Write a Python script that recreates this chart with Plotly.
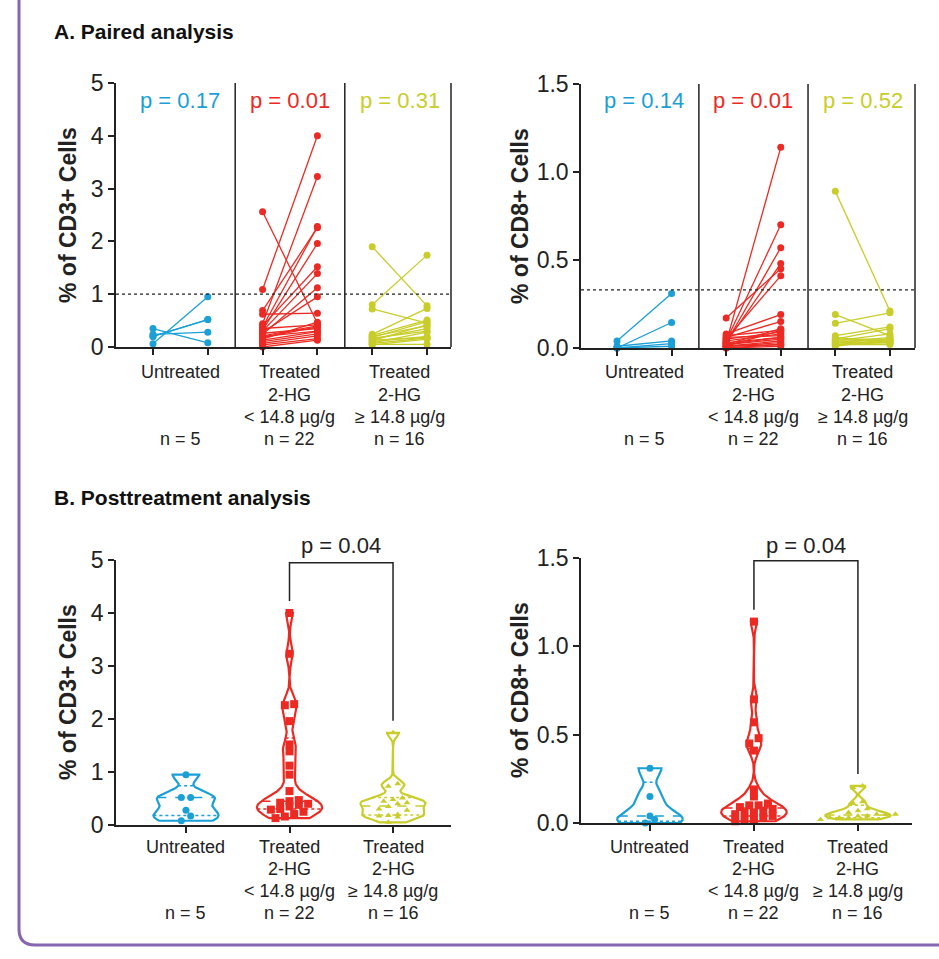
import numpy as np
import plotly.graph_objects as go

W, H = 939, 959
BLUE = "#1a9fd6"
RED = "#ec2a24"
YEL = "#c8cd2a"
INK = "#222222"
FONT = "Arial, Liberation Sans, sans-serif"

# ---------------- data ----------------
group_lines = [["Untreated", "", "", "n = 5"],
               ["Treated", "2-HG", "< 14.8 µg/g", "n = 22"],
               ["Treated", "2-HG", "≥ 14.8 µg/g", "n = 16"]]
group_colors = [BLUE, RED, YEL]

# Paired analysis, CD3
cd3_untr_pre = [0.35, 0.24, 0.20, 0.20, 0.06]
cd3_untr_post = [0.08, 0.28, 0.52, 0.52, 0.95]
cd3_low_pre = [2.56, 1.09, 0.69, 0.62, 0.44, 0.40, 0.38, 0.35, 0.32, 0.30, 0.28,
               0.26, 0.24, 0.21, 0.20, 0.18, 0.15, 0.13, 0.10, 0.07, 0.04, 0.0]
cd3_low_post = [0.45, 4.00, 2.26, 0.64, 3.23, 1.52, 2.28, 0.42, 1.96, 1.39, 0.95,
                0.35, 1.12, 0.40, 0.30, 0.38, 0.47, 0.29, 0.25, 0.21, 0.16, 0.13]
cd3_high_pre = [1.90, 0.80, 0.72, 0.24, 0.22, 0.20, 0.18, 0.17, 0.15, 0.13, 0.12,
                0.10, 0.08, 0.07, 0.05, 0.04]
cd3_high_post = [0.78, 1.74, 0.45, 0.73, 0.51, 0.40, 0.48, 0.30, 0.35, 0.18, 0.42,
                 0.20, 0.28, 0.17, 0.05, 0.15]
cd3_pvals = ["p = 0.17", "p = 0.01", "p = 0.31"]
cd3_ref = 1.0

# Paired analysis, CD8
cd8_untr_pre = [0.04, 0.0, 0.01, 0.0, 0.0]
cd8_untr_post = [0.31, 0.145, 0.04, 0.025, 0.01]
cd8_low_pre = [0.17, 0.08, 0.07, 0.06, 0.05, 0.05, 0.04, 0.04, 0.03, 0.03, 0.03,
               0.02, 0.02, 0.02, 0.01, 0.01, 0.01, 0.01, 0.0, 0.0, 0.06, 0.03]
cd8_low_post = [0.45, 0.19, 0.10, 0.15, 0.41, 0.09, 0.70, 0.08, 1.14, 0.48, 0.57,
                0.06, 0.11, 0.05, 0.04, 0.10, 0.02, 0.03, 0.01, 0.02, 0.07, 0.06]
cd8_high_pre = [0.89, 0.19, 0.14, 0.07, 0.06, 0.05, 0.05, 0.04, 0.04, 0.03, 0.03,
                0.03, 0.02, 0.02, 0.02, 0.01]
cd8_high_post = [0.21, 0.07, 0.20, 0.12, 0.03, 0.11, 0.05, 0.08, 0.04, 0.05, 0.03,
                 0.06, 0.04, 0.02, 0.03, 0.05]
cd8_pvals = ["p = 0.14", "p = 0.01", "p = 0.52"]
cd8_ref = 0.33

# Posttreatment analysis
b_cd3_groups = [[0.95, 0.52, 0.52, 0.28, 0.17, 0.08], cd3_low_post, cd3_high_post]
b_cd8_groups = [[0.31, 0.15, 0.04, 0.02, 0.0], cd8_low_post, cd8_high_post]
# (lower quartile, median, upper quartile) as drawn
b_cd3_quart = [(0.18, 0.52, 0.74), (0.30, 0.45, 1.64), (0.19, 0.36, 0.52)]
b_cd8_quart = [(0.01, 0.04, 0.23), (0.04, 0.085, 0.42), (0.03, 0.045, 0.10)]
b_pval = "p = 0.04"


# ---------------- helpers ----------------
def px(x):
    return x / W


def py(y):
    return 1 - y / H


fig = go.Figure()

TICKSIZE = 23
axis_common = dict(showline=True, linecolor=INK, linewidth=1.5, ticks="outside",
                   ticklen=6, tickwidth=1.5, tickcolor=INK, showgrid=False,
                   zeroline=False, automargin=False,
                   tickfont=dict(family=FONT, size=TICKSIZE, color=INK))

layout_axes = {
    "xaxis": dict(domain=[px(116), px(451)], range=[0.325, 6.438], anchor="y",
                  tickvals=[1, 2, 3, 4, 5, 6], showticklabels=False),
    "yaxis": dict(domain=[py(347), py(83)], range=[0, 5], anchor="x",
                  tickvals=[0, 1, 2, 3, 4, 5]),
    "xaxis2": dict(domain=[px(581), px(915)], range=[0.34, 6.46], anchor="y2",
                   tickvals=[1, 2, 3, 4, 5, 6], showticklabels=False),
    "yaxis2": dict(domain=[py(348), py(84)], range=[0, 1.5], anchor="x2",
                   tickvals=[0, 0.5, 1.0, 1.5], tickformat=".1f"),
    "xaxis3": dict(domain=[px(116), px(451)], range=[0.324, 3.56], anchor="y3",
                   tickvals=[1, 2, 3], showticklabels=False),
    "yaxis3": dict(domain=[py(825), py(560)], range=[0, 5], anchor="x3",
                   tickvals=[0, 1, 2, 3, 4, 5]),
    "xaxis4": dict(domain=[px(581), px(912)], range=[0.337, 3.52], anchor="y4",
                   tickvals=[1, 2, 3], showticklabels=False),
    "yaxis4": dict(domain=[py(823), py(558)], range=[0, 1.5], anchor="x4",
                   tickvals=[0, 0.5, 1.0, 1.5], tickformat=".1f"),
}
for k, v in layout_axes.items():
    d = dict(axis_common)
    d.update(v)
    layout_axes[k] = d

shapes = []
annotations = []


def ann(**kw):
    base = dict(showarrow=False, xanchor="center", yanchor="middle")
    base.update(kw)
    annotations.append(base)


def add_paired(pres, posts, xa, ya):
    for gi, (pre, post) in enumerate(zip(pres, posts)):
        col = group_colors[gi]
        x0, x1 = 2 * gi + 1, 2 * gi + 2
        xs, ys = [], []
        for a, b in zip(pre, post):
            xs += [x0, x1, None]
            ys += [a, b, None]
        fig.add_trace(go.Scatter(x=xs, y=ys, mode="lines+markers", xaxis=xa, yaxis=ya,
                                 line=dict(color=col, width=1.3),
                                 marker=dict(color=col, size=7, symbol="circle"),
                                 cliponaxis=False, showlegend=False, hoverinfo="skip"))


def swarm(vals, tol, dx):
    v = np.sort(np.array(vals, dtype=float))
    off = np.zeros(len(v))
    start = 0
    for i in range(1, len(v) + 1):
        if i == len(v) or v[i] - v[start] > tol:
            k = i - start
            off[start:i] = (np.arange(k) - (k - 1) / 2) * dx
            start = i
    return v, off


def add_violin(vals, c, col, bw, quart, xa, ya, symbol, msize, tol):
    v = np.array(vals, dtype=float)
    ys = np.linspace(v.min(), v.max(), 300)
    d = np.exp(-0.5 * ((ys[:, None] - v[None, :]) / bw) ** 2).sum(1)
    hw = 0.315 * d / d.max()
    xs = np.concatenate([c + hw, (c - hw)[::-1], [c + hw[0]]])
    yy = np.concatenate([ys, ys[::-1], [ys[0]]])
    fig.add_trace(go.Scatter(x=xs, y=yy, mode="lines", fill="toself", fillcolor="white",
                             line=dict(color=col, width=2.2), xaxis=xa, yaxis=ya,
                             showlegend=False, hoverinfo="skip", cliponaxis=False))
    for q, dash in zip(quart, ["dot", "dash", "dot"]):
        h = float(np.interp(q, ys, hw))
        fig.add_trace(go.Scatter(x=[c - h, c + h], y=[q, q], mode="lines",
                                 line=dict(color=col, width=1.5, dash=dash),
                                 xaxis=xa, yaxis=ya, showlegend=False, hoverinfo="skip"))
    sv, off = swarm(vals, tol, 0.09)
    fig.add_trace(go.Scatter(x=c + off, y=sv, mode="markers", xaxis=xa, yaxis=ya,
                             marker=dict(color=col, size=msize, symbol=symbol),
                             cliponaxis=False, showlegend=False, hoverinfo="skip"))


# ---------------- panel A ----------------
add_paired([cd3_untr_pre, cd3_low_pre, cd3_high_pre],
           [cd3_untr_post, cd3_low_post, cd3_high_post], "x", "y")
add_paired([cd8_untr_pre, cd8_low_pre, cd8_high_pre],
           [cd8_untr_post, cd8_low_post, cd8_high_post], "x2", "y2")

for xr, yr, ref in [("x", "y", cd3_ref), ("x2", "y2", cd8_ref)]:
    for xv in [2.5, 4.5]:
        shapes.append(dict(type="line", xref=xr, yref=yr + " domain", x0=xv, x1=xv,
                           y0=0, y1=1, line=dict(color=INK, width=1.5)))
    shapes.append(dict(type="line", xref=xr + " domain", yref=yr + " domain", x0=1, x1=1,
                       y0=0, y1=1, line=dict(color=INK, width=1.5)))
    shapes.append(dict(type="line", xref=xr + " domain", yref=yr, x0=0, x1=1,
                       y0=ref, y1=ref, line=dict(color=INK, width=1.2, dash="dot")))

for xr, pvals in [("x", cd3_pvals), ("x2", cd8_pvals)]:
    for gi, t in enumerate(pvals):
        ann(x=2 * gi + 1.5, y=py(101), xref=xr, yref="paper", text=t,
            font=dict(family=FONT, size=22, color=group_colors[gi]))

# ---------------- panel B ----------------
bws3 = [0.12, 0.16, 0.08]
bws8 = [0.05, 0.04, 0.018]
syms = ["circle", "square", "triangle-up"]
sizes = [7, 8, 6]
for gi in range(3):
    add_violin(b_cd3_groups[gi], gi + 1, group_colors[gi], bws3[gi], b_cd3_quart[gi],
               "x3", "y3", syms[gi], sizes[gi], 0.12)
    add_violin(b_cd8_groups[gi], gi + 1, group_colors[gi], bws8[gi], b_cd8_quart[gi],
               "x4", "y4", syms[gi], sizes[gi], 0.035)

for xr, yr, groups, ymax in [("x3", "y3", b_cd3_groups, 5.0),
                             ("x4", "y4", b_cd8_groups, 1.5)]:
    off = 0.045 * ymax
    top = 0.99 * ymax
    y_low = max(groups[1]) + off
    y_high = max(groups[2]) + off
    shapes.append(dict(type="path", xref=xr, yref=yr,
                       path=f"M 2,{y_low} L 2,{top} L 3,{top} L 3,{y_high}",
                       line=dict(color=INK, width=1.5)))
    ann(x=2.5, y=py(545), xref=xr, yref="paper", text=b_pval,
        font=dict(family=FONT, size=22, color=INK))

# ---------------- group labels ----------------
label_rows_A = [372, 395, 417, 439]
label_rows_B = [847, 869, 891, 913]
for xr, centers, rows in [("x", [1.5, 3.5, 5.5], label_rows_A),
                          ("x2", [1.5, 3.5, 5.5], label_rows_A),
                          ("x3", [1, 2, 3], label_rows_B),
                          ("x4", [1, 2, 3], label_rows_B)]:
    for gi, c in enumerate(centers):
        for li, t in enumerate(group_lines[gi]):
            if not t:
                continue
            ann(x=c, y=py(rows[li]), xref=xr, yref="paper", text=t,
                font=dict(family=FONT, size=18, color=INK))

# axis titles
for x, y, t in [(68, 215, "% of CD3+ Cells"), (520, 216, "% of CD8+ Cells"),
                (68, 692, "% of CD3+ Cells"), (520, 690, "% of CD8+ Cells")]:
    ann(x=px(x), y=py(y), xref="paper", yref="paper", text=f"<b>{t}</b>",
        textangle=-90, font=dict(family=FONT, size=23, color=INK))

# section titles
for y, t in [(32, "A. Paired analysis"), (497, "B. Posttreatment analysis")]:
    ann(x=px(52), y=py(y), xref="paper", yref="paper", xanchor="left",
        text=f"<b>{t}</b>", font=dict(family=FONT, size=21, color="#111111"))

# purple frame
L, B, R = px(19), py(945), px(980)
rx, ry = px(16), 16 / H
shapes.append(dict(type="path", xref="paper", yref="paper",
                   path=(f"M {L},{py(-20)} L {L},{B + ry} Q {L},{B} {L + rx},{B} L {R},{B}"),
                   line=dict(color="#8666b0", width=3)))

fig.update_layout(width=W, height=H,
                  margin=dict(l=0, r=0, t=0, b=0, pad=0, autoexpand=False),
                  paper_bgcolor="white", plot_bgcolor="white",
                  font=dict(family=FONT, color=INK), showlegend=False,
                  shapes=shapes, annotations=annotations, **layout_axes)

fig.write_html("out.html")
